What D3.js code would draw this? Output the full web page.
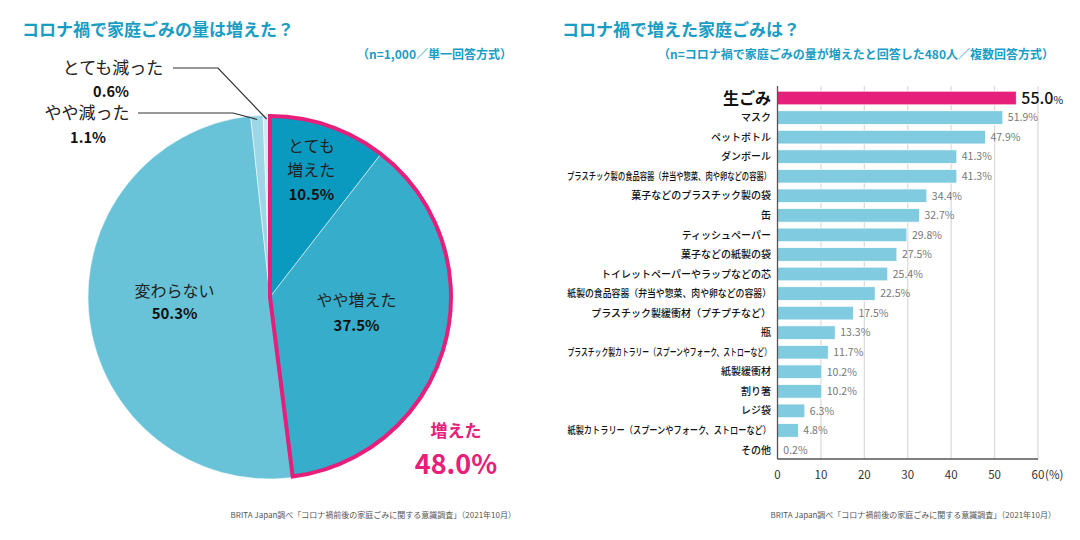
<!DOCTYPE html>
<html><head><meta charset="utf-8">
<script src="https://cdn.jsdelivr.net/npm/d3@7"></script>
<style>
body{margin:0;background:#fff;}
svg{display:block;font-family:"Noto Sans CJK JP","Noto Sans",sans-serif;}
</style></head>
<body>
<svg id="c" width="1080" height="540"></svg>
<script>
// ---- data ----
const pieLabels = ["とても増えた","やや増えた","変わらない","やや減った","とても減った"];
const pieValues = [10.5, 37.5, 50.3, 1.1, 0.6];
const pieColors = ["#0b9abf","#35adcb","#68c2d8","#9dd7e6","#cdebf3"];
const increasedTotal = 48.0;

const barCategories = ["生ごみ","マスク","ペットボトル","ダンボール","プラスチック製の食品容器（弁当や惣菜、肉や卵などの容器）","菓子などのプラスチック製の袋","缶","ティッシュペーパー","菓子などの紙製の袋","トイレットペーパーやラップなどの芯","紙製の食品容器（弁当や惣菜、肉や卵などの容器）","プラスチック製緩衝材（プチプチなど）","瓶","プラスチック製カトラリー（スプーンやフォーク、ストローなど）","紙製緩衝材","割り箸","レジ袋","紙製カトラリー（スプーンやフォーク、ストローなど）","その他"];
const barValues = [55.0,51.9,47.9,41.3,41.3,34.4,32.7,29.8,27.5,25.4,22.5,17.5,13.3,11.7,10.2,10.2,6.3,4.8,0.2];
const xTicks = [0,10,20,30,40,50,60];

const titleLeft = "コロナ禍で家庭ごみの量は増えた？";
const subLeft = "（n=1,000／単一回答方式）";
const titleRight = "コロナ禍で増えた家庭ごみは？";
const subRight = "（n=コロナ禍で家庭ごみの量が増えたと回答した480人／複数回答方式）";
const source = "BRITA Japan調べ「コロナ禍前後の家庭ごみに関する意識調査」（2021年10月）";

const TEAL = "#1a9dc3", PINK = "#e6207a";
const svg = d3.select("#c");

// ---- titles ----
svg.append("text").attr("x",22).attr("y",36).attr("font-size",17).attr("font-weight","bold").attr("fill",TEAL).text(titleLeft);
svg.append("text").attr("x",512).attr("y",59).attr("text-anchor","end").attr("font-size",12).attr("font-weight","bold").attr("fill",TEAL).text(subLeft);
svg.append("text").attr("x",562).attr("y",36).attr("font-size",17).attr("font-weight","bold").attr("fill",TEAL).text(titleRight);
svg.append("text").attr("x",1054).attr("y",59).attr("text-anchor","end").attr("font-size",12).attr("font-weight","bold").attr("fill",TEAL).text(subRight);
svg.append("text").attr("x",516).attr("y",518).attr("text-anchor","end").attr("font-size",8).attr("fill","#555").text(source);
svg.append("text").attr("x",1056).attr("y",518).attr("text-anchor","end").attr("font-size",8).attr("fill","#555").text(source);

// ---- pie ----
const cx = 270, cy = 297, R = 182;
const pg = svg.append("g").attr("transform",`translate(${cx},${cy})`);
const pie = d3.pie().sort(null).value(d=>d)(pieValues);
const arc = d3.arc().innerRadius(0).outerRadius(R);
pg.selectAll("path.s").data(pie).join("path").attr("class","s")
  .attr("d",arc).attr("fill",(d,i)=>pieColors[i]).attr("stroke","#fff").attr("stroke-width",0.5);

// outline for increased
const incEnd = pie[1].endAngle;
pg.append("path").attr("d",d3.arc().innerRadius(0).outerRadius(R-1)({startAngle:0,endAngle:incEnd}))
  .attr("fill","none").attr("stroke",PINK).attr("stroke-width",4).attr("stroke-linejoin","miter");

function pt(angle, r){ return [Math.sin(angle)*r, -Math.cos(angle)*r]; }
function mid(d){ return (d.startAngle+d.endAngle)/2; }

const txt = (g,x,y,s,size,weight,fill,anchor)=>g.append("text").attr("x",x).attr("y",y).attr("font-size",size)
   .attr("font-weight",weight||"normal").attr("fill",fill||"#222").attr("text-anchor",anchor||"middle").text(s);
{
  const [x,y] = pt(mid(pie[0]), R*0.6);
  txt(pg,x+6,y-42,"とても",16,"normal","#222");
  txt(pg,x+6,y-18,"増えた",16,"normal","#222");
  txt(pg,x+6,y+6,"10.5%",15,"bold","#111");
}
{
  const [x,y] = pt(mid(pie[1]), R*0.55);
  txt(pg,x-10,y-17,"やや増えた",16,"normal","#222");
  txt(pg,x-10,y+8,"37.5%",15,"bold","#111");
}
{
  const [x,y] = pt(mid(pie[2]), R*0.55);
  txt(pg,x+4,y-12,"変わらない",16,"normal","#222");
  txt(pg,x+4,y+10,"50.3%",15,"bold","#111");
}
// pink total label
txt(pg,186,140,"増えた",17,"bold",PINK);
txt(pg,186,177,increasedTotal.toFixed(1)+"%",27,"bold",PINK);

// outside labels with leaders
[[4, -229, 173-cx, 218-cx],[3, -184, 138-cx, 233-cx]].forEach(([i, lineY, lx0, lx1])=>{
  const d = pie[i];
  const [ex,ey] = pt(mid(d), R-4);
  pg.append("polyline").attr("points",[[lx0,lineY],[lx1,lineY],[ex,ey]].map(p=>p.join(",")).join(" "))
    .attr("fill","none").attr("stroke","#333").attr("stroke-width",1.2);
});
txt(pg,113-cx,74-cy,pieLabels[4],17,"normal","#222");
txt(pg,111-cx,97-cy,pieValues[4].toFixed(1)+"%",14.5,"bold","#111");
txt(pg,87-cx,119-cy,pieLabels[3],17,"normal","#222");
txt(pg,88-cx,143-cy,pieValues[3].toFixed(1)+"%",14.5,"bold","#111");

// ---- bar chart ----
const x = d3.scaleLinear().domain([0,60]).range([777.5,1038]);
const y = d3.scaleBand().domain(barCategories).range([85.3,462.7]).padding(0.3);
const axisY0 = 86, axisY1 = 459;
const bg = svg.append("g");
bg.selectAll("line.grid").data(xTicks.slice(1)).join("line").attr("class","grid")
  .attr("x1",d=>x(d)).attr("x2",d=>x(d)).attr("y1",axisY0).attr("y2",axisY1)
  .attr("stroke","#dcdcdc").attr("stroke-width",1.3);
bg.selectAll("rect").data(barValues).join("rect")
  .attr("x",x(0)).attr("y",(d,i)=>y(barCategories[i])).attr("height",y.bandwidth())
  .attr("width",d=>x(d)-x(0)).attr("fill",(d,i)=>i===0?PINK:"#80cbdf")
  .attr("stroke","#fff").attr("stroke-width",0.8);
// axes
bg.append("line").attr("x1",x(0)).attr("x2",x(0)).attr("y1",axisY0).attr("y2",axisY1).attr("stroke","#555").attr("stroke-width",1.3);
bg.append("line").attr("x1",x(0)).attr("x2",x(60)).attr("y1",axisY1).attr("y2",axisY1).attr("stroke","#555").attr("stroke-width",1.3);
bg.selectAll("text.tick").data(xTicks).join("text").attr("class","tick")
  .attr("x",d=>x(d)).attr("y",479).attr("text-anchor","middle").attr("font-size",11.5).attr("fill","#333")
  .text(d=>d);
bg.append("text").attr("x",x(60)+7).attr("y",479).attr("font-size",11.5).attr("fill","#333").text("(%)");

// category labels
barCategories.forEach((c,i)=>{
  const cyb = y(c)+y.bandwidth()/2;
  const g = bg.append("g").attr("transform",`translate(771,${cyb})`);
  const t = g.append("text").attr("x",0).attr("y",0).attr("dy","0.36em").attr("text-anchor","end")
    .attr("fill","#111").text(c);
  if(i===0){ t.attr("font-size",16).attr("font-weight","bold"); }
  else {
    t.attr("font-size",10).attr("font-weight","500");
    const w = t.node().getComputedTextLength();
    if (w>204) g.attr("transform",`translate(771,${cyb}) scale(${204/w},1)`);
  }
});
// value labels
barValues.forEach((v,i)=>{
  const cyb = y(barCategories[i])+y.bandwidth()/2;
  if(i===0){
    const t = bg.append("text").attr("x",x(v)+5).attr("y",cyb).attr("dy","0.36em").attr("fill","#111");
    t.append("tspan").attr("font-size",16).attr("font-weight","500").text(v.toFixed(1));
    t.append("tspan").attr("font-size",10.5).text("%");
  } else {
    bg.append("text").attr("x",x(v)+5).attr("y",cyb).attr("dy","0.36em").attr("font-size",10.5)
      .attr("fill","#777").text(v.toFixed(1)+"%");
  }
});
</script>
</body></html>
